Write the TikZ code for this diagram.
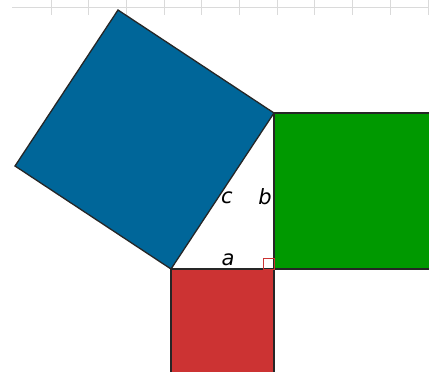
\documentclass[tikz,border=0pt]{standalone}
\usepackage{fontspec}
\newfontfamily\labelfont{DejaVu Sans}
\definecolor{sqblue}{HTML}{006699}
\definecolor{sqgreen}{HTML}{009900}
\definecolor{sqred}{HTML}{CC3333}
\definecolor{rulergray}{HTML}{DADADA}
\begin{document}
\begin{tikzpicture}[
    x=1pt, y=-1pt,
    square/.style={draw=black!85, line width=1.3pt, line join=miter},
    ruler/.style={draw=rulergray, line width=1pt},
    anglemark/.style={draw=sqred, line width=0.8pt},
    side label/.style={font=\labelfont\itshape\fontsize{21}{21}\selectfont, inner sep=0pt}
]
\useasboundingbox (0,0) rectangle (429,372);
\clip (0,0) rectangle (429,372);

% ruler at the top
\coordinate (rulerstart) at (12,7);
\coordinate (rulerend) at (429,7);
\draw[ruler] (rulerstart) -- (rulerend);
\foreach \i in {0,...,10}
    \draw[ruler] ({51+37.7*\i},0) -- ++(0,15);

% corners of the triangle
\coordinate (A) at (171,269);
\coordinate (C) at (274,269);
\coordinate (B) at (274,113);

% outer corners of the squares
\coordinate (Bc) at (118,10);
\coordinate (Ac) at (15,166);
\coordinate (Bb) at (431,113);
\coordinate (Cb) at (431,269);
\coordinate (Ca) at (274,374);
\coordinate (Aa) at (171,374);

\filldraw[square, fill=sqblue] (A) -- (B) -- (Bc) -- (Ac) -- cycle;
\filldraw[square, fill=sqgreen] (B) -- (Bb) -- (Cb) -- (C) -- cycle;
\filldraw[square, fill=sqred] (A) -- (C) -- (Ca) -- (Aa) -- cycle;

% right angle
\coordinate (M) at (263,258);
\draw[anglemark] (M) rectangle (C);

% side labels
\node[side label] (la) at (228,260) {a};
\node[side label] (lb) at (265,197) {b};
\node[side label] (lc) at (227,198) {c};
\end{tikzpicture}
\end{document}
